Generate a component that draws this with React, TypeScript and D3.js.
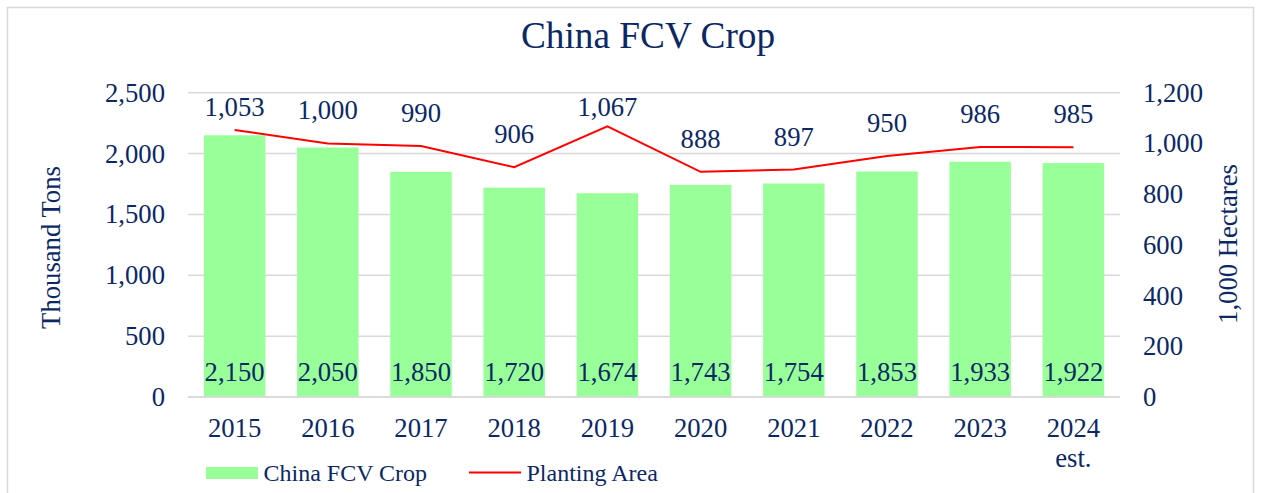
import React from "react";
import * as d3 from "d3";

const categories = ["2015", "2016", "2017", "2018", "2019", "2020", "2021", "2022", "2023", "2024 est."];
const cropValues = [2150, 2050, 1850, 1720, 1674, 1743, 1754, 1853, 1933, 1922];
const areaValues = [1053, 1000, 990, 906, 1067, 888, 897, 950, 986, 985];
const leftTicks = [0, 500, 1000, 1500, 2000, 2500];
const rightTicks = [0, 200, 400, 600, 800, 1000, 1200];

const W = 1261;
const H = 493;
const FONT = "'Liberation Serif', 'Times New Roman', serif";
const TEXT = "#0B2865";
const GRID = "#D9D9D9";

export default function App() {
  const plotLeft = 188;
  const plotRight = 1120;
  const plotTop = 92.7;
  const plotBottom = 397;

  const x = d3.scaleBand<string>().domain(categories).range([plotLeft, plotRight]).paddingInner(0.34).paddingOuter(0.17);
  const yL = d3.scaleLinear().domain([0, 2500]).range([plotBottom, plotTop]);
  const yR = d3.scaleLinear().domain([0, 1200]).range([plotBottom, plotTop]);
  const fmt = d3.format(",");
  const cx = (c: string) => (x(c) as number) + x.bandwidth() / 2;

  const line = d3
    .line<number>()
    .x((_, i) => cx(categories[i]))
    .y((d) => yR(d));

  return (
    <svg width={W} height={H} style={{ position: "absolute", left: 0, top: 0, background: "#fff" }} fontFamily={FONT}>
      <rect x={7.5} y={7.5} width={1246} height={500} fill="#fff" stroke={GRID} strokeWidth={1.5} />
      <text x={648} y={48} textAnchor="middle" fontSize={37.3} fill={TEXT}>China FCV Crop</text>

      {leftTicks.map((t) => (
        <g key={"l" + t}>
          <line x1={plotLeft} x2={plotRight} y1={yL(t)} y2={yL(t)} stroke={GRID} strokeWidth={1.5} />
          <text x={165} y={yL(t) + 9} textAnchor="end" fontSize={26.67} fill={TEXT}>{fmt(t)}</text>
        </g>
      ))}
      {rightTicks.map((t) => (
        <text key={"r" + t} x={1143} y={yR(t) + 9} textAnchor="start" fontSize={26.67} fill={TEXT}>{fmt(t)}</text>
      ))}

      <text transform={`translate(60,247.5) rotate(-90)`} textAnchor="middle" fontSize={26.67} fill={TEXT}>Thousand Tons</text>
      <text transform={`translate(1236.5,244) rotate(-90)`} textAnchor="middle" fontSize={26.67} fill={TEXT}>1,000 Hectares</text>

      {categories.map((c, i) => (
        <rect key={"b" + c} x={x(c)} y={yL(cropValues[i])} width={x.bandwidth()} height={plotBottom - yL(cropValues[i])} fill="#99FF99" />
      ))}
      <line x1={plotLeft} x2={plotRight} y1={plotBottom} y2={plotBottom} stroke={GRID} strokeWidth={1.5} />

      {categories.map((c, i) => (
        <text key={"bl" + c} x={cx(c)} y={plotBottom - 16.5} textAnchor="middle" fontSize={26.67} fill={TEXT}>{fmt(cropValues[i])}</text>
      ))}

      <path d={line(areaValues) || ""} fill="none" stroke="#FF0000" strokeWidth={2} />
      {categories.map((c, i) => (
        <text key={"ll" + c} x={cx(c)} y={Math.max(yR(areaValues[i]) - 24, 116)} textAnchor="middle" fontSize={26.67} fill={TEXT}>{fmt(areaValues[i])}</text>
      ))}

      {categories.map((c) => {
        const parts = c.split(" ");
        return (
          <text key={"x" + c} x={cx(c)} y={437} textAnchor="middle" fontSize={26.67} fill={TEXT}>
            {parts.map((p, j) => (
              <tspan key={j} x={cx(c)} dy={j === 0 ? 0 : 30}>{p}</tspan>
            ))}
          </text>
        );
      })}

      <rect x={206} y={467} width={52} height={12} fill="#99FF99" />
      <text x={263.5} y={480.5} fontSize={24} fill={TEXT}>China FCV Crop</text>
      <line x1={469} x2={521} y1={472.5} y2={472.5} stroke="#FF0000" strokeWidth={2} />
      <text x={526.5} y={480.5} fontSize={24} fill={TEXT}>Planting Area</text>
    </svg>
  );
}
